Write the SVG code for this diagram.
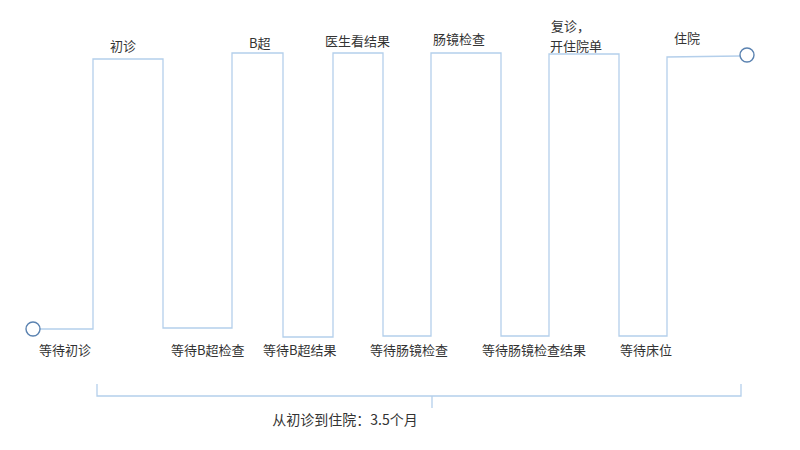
<svg xmlns="http://www.w3.org/2000/svg" width="800" height="450" viewBox="0 0 800 450">
<style>
.wave{fill:none;stroke:#b4cfeb;stroke-width:1.3}
.term{fill:#fff;stroke:#5a82b0;stroke-width:1.4}
.lbl{font-family:"Noto Sans CJK SC","Liberation Sans",sans-serif;font-size:13px;fill:#333}
.sum{font-family:"Noto Sans CJK SC","Liberation Sans",sans-serif;font-size:14px;fill:#333}
</style>
<rect width="800" height="450" fill="#fff"/>
<g id="connectors">
<path class="wave" d="M40,329 H93 V59 H163 V328 H232 V53 H283 V337 H333 V53 H383 V336 H431 V53 H501 V336 H549 V54 H619 V336 H667 V57 L740,56"/>
<path class="wave" d="M97,384 V396 H741 V384 M432,396 V408"/>
</g>
<g id="start"><circle class="term" cx="33" cy="329" r="7"/></g>
<g id="end"><circle class="term" cx="747" cy="55" r="7"/></g>
<g id="top-labels">
<text class="lbl" x="110" y="51">初诊</text>
<text class="lbl" x="249" y="48">B超</text>
<text class="lbl" x="325" y="46">医生看结果</text>
<text class="lbl" x="433" y="44">肠镜检查</text>
<text class="lbl" x="551" y="31">复诊，</text>
<text class="lbl" x="550" y="51">开住院单</text>
<text class="lbl" x="674" y="43">住院</text>
</g>
<g id="bottom-labels">
<text class="lbl" x="39" y="355">等待初诊</text>
<text class="lbl" x="171" y="355">等待B超检查</text>
<text class="lbl" x="263" y="355">等待B超结果</text>
<text class="lbl" x="370" y="355">等待肠镜检查</text>
<text class="lbl" x="482" y="355">等待肠镜检查结果</text>
<text class="lbl" x="620" y="355">等待床位</text>
</g>
<g id="summary">
<text class="sum" x="345" y="425" text-anchor="middle">从初诊到住院：3.5个月</text>
</g>
</svg>
